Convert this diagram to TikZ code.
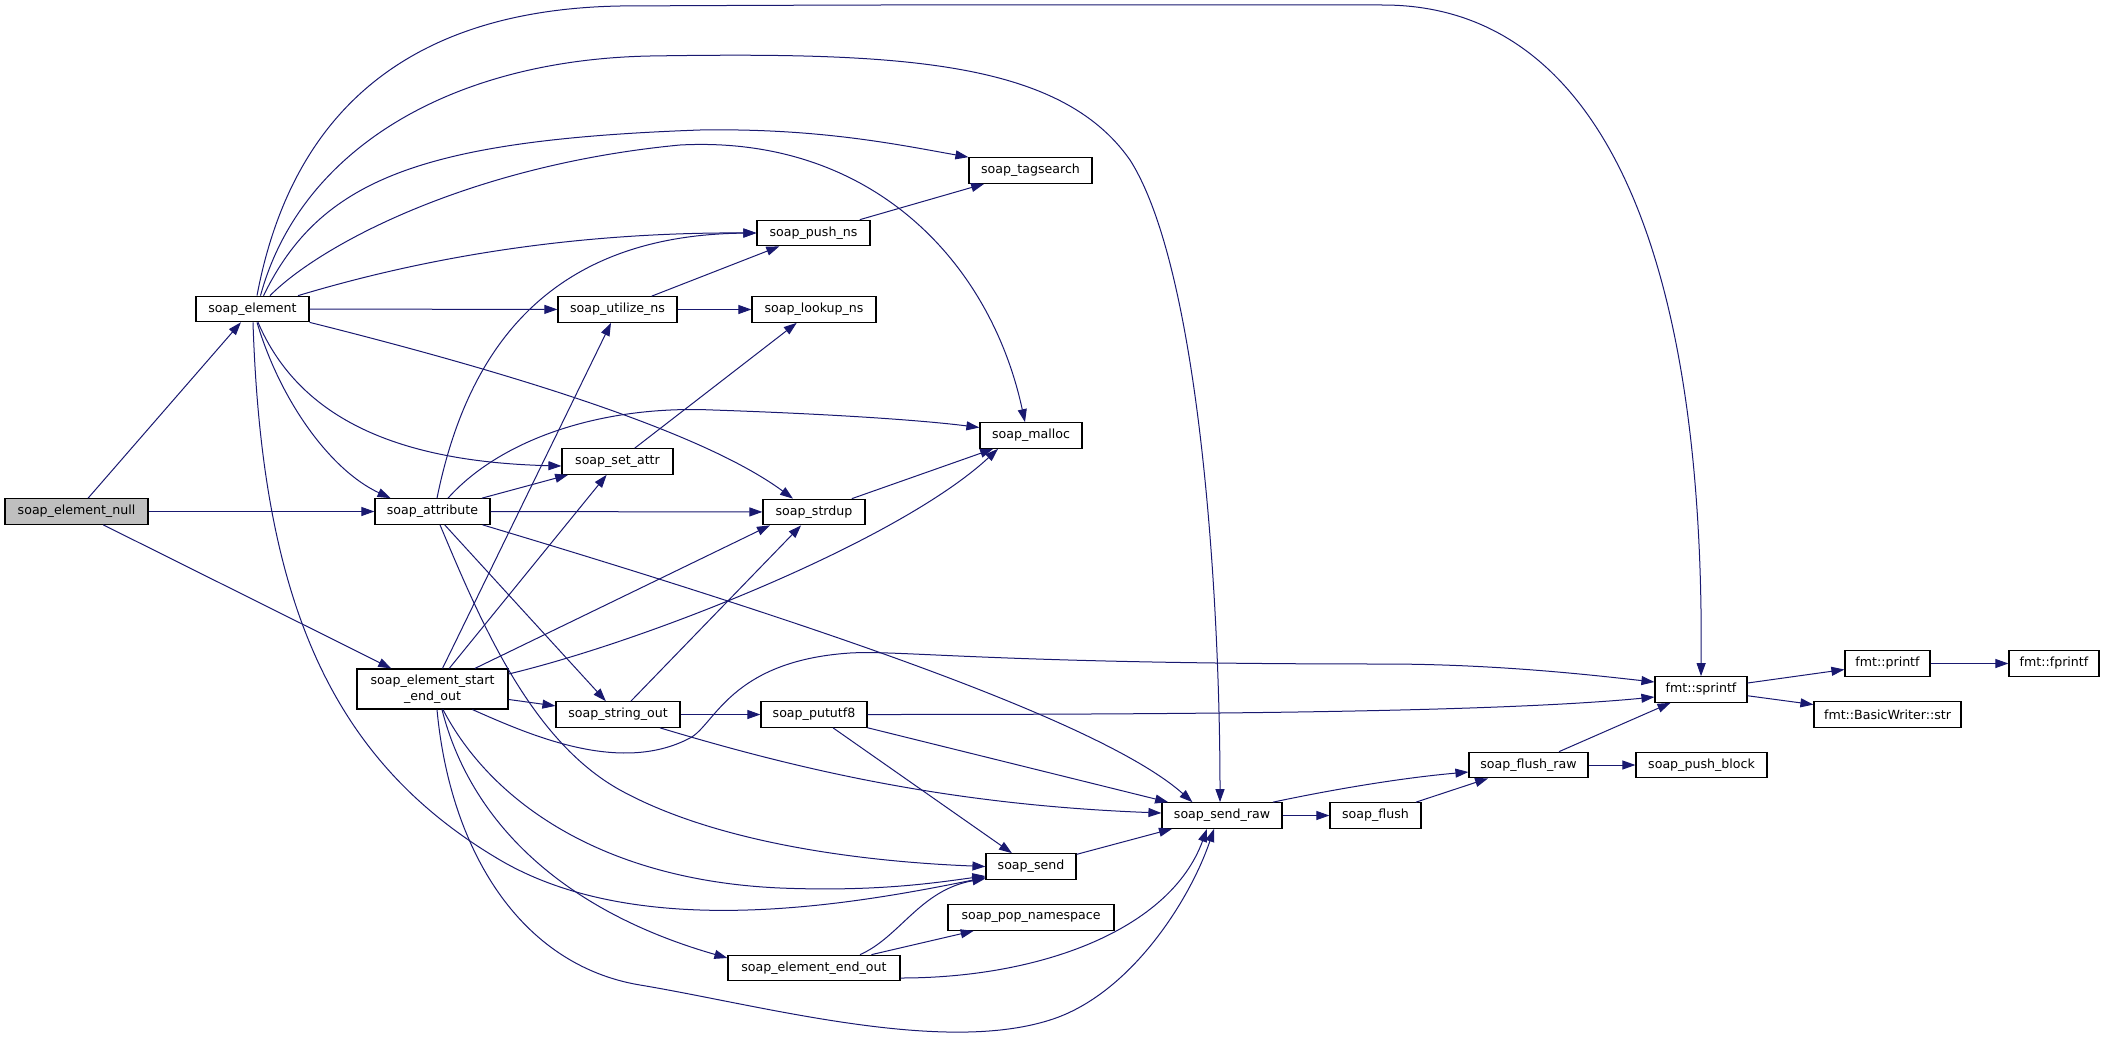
\documentclass[tikz,border=0pt]{standalone}
\usepackage{fontspec}
\setmainfont{DejaVu Sans}
\usetikzlibrary{arrows.meta}
\definecolor{edgeblue}{HTML}{191970}
\definecolor{rootgray}{HTML}{BFBFBF}

\begin{document}
\begin{tikzpicture}[x=1pt, y=-1pt,
    fn/.style={draw=black, fill=white, line width=1.2pt, minimum height=25.5pt, inner sep=0pt,
      font=\fontsize{12.6}{15.5}\selectfont},
    root/.style={fn, fill=rootgray},
    call/.style={draw=edgeblue, line width=1pt, -{Triangle[length=13pt, width=9pt]}}]
    \useasboundingbox (0,0) rectangle (2104,1036);

    \node[root, minimum width=143pt] (null) at (76.5,511.5) {soap\_element\_null};
    \node[fn, minimum width=113pt] (element) at (252.5,309) {soap\_element};
    \node[fn, minimum width=115pt] (attribute) at (432.5,511.5) {soap\_attribute};
    \node[fn, minimum width=151pt, minimum height=40pt, align=center] (seo) at (432.5,689) {soap\_element\_start\\\_end\_out};

    \node[fn, minimum width=119pt] (utilize) at (617.5,309.5) {soap\_utilize\_ns};
    \node[fn, minimum width=111pt] (setattr) at (617.5,461.5) {soap\_set\_attr};
    \node[fn, minimum width=124pt] (stringout) at (618,714.5) {soap\_string\_out};

    \node[fn, minimum width=113pt] (pushns) at (813.5,233) {soap\_push\_ns};
    \node[fn, minimum width=124pt] (lookupns) at (814,309.5) {soap\_lookup\_ns};
    \node[fn, minimum width=102pt] (strdup) at (814,512) {soap\_strdup};
    \node[fn, minimum width=106pt] (pututf8) at (814,714.5) {soap\_pututf8};
    \node[fn, minimum width=172pt] (endout) at (814,968) {soap\_element\_end\_out};

    \node[fn, minimum width=123pt] (tagsearch) at (1030.5,170.5) {soap\_tagsearch};
    \node[fn, minimum width=102pt] (malloc) at (1031,435.5) {soap\_malloc};
    \node[fn, minimum width=90pt] (send) at (1031,866.5) {soap\_send};
    \node[fn, minimum width=166pt] (popns) at (1031,917.5) {soap\_pop\_namespace};

    \node[fn, minimum width=120pt] (sendraw) at (1222,815.5) {soap\_send\_raw};
    \node[fn, minimum width=91pt] (flush) at (1375.5,815.5) {soap\_flush};
    \node[fn, minimum width=119pt] (flushraw) at (1528.5,765) {soap\_flush\_raw};
    \node[fn, minimum width=92pt] (sprintf) at (1701,689.5) {fmt::sprintf};
    \node[fn, minimum width=131pt] (pushblock) at (1701.5,765) {soap\_push\_block};
    \node[fn, minimum width=85pt] (printf) at (1887.5,663.5) {fmt::printf};
    \node[fn, minimum width=147pt] (basicwriter) at (1887.5,714.5) {fmt::BasicWriter::str};
    \node[fn, minimum width=90pt] (fprintf) at (2054,663.5) {fmt::fprintf};

    \draw[call] (null) -- (element);
    \draw[call] (null) -- (attribute);
    \draw[call] (null) -- (seo);

    \draw[call] ([xshift=4.5pt]element.north) .. controls (290,120) and (400,10) .. (620,6)
      .. controls (1000,4) and (1250,5) .. (1383,5) .. controls (1600,5) and (1705,250) .. (sprintf.north);
    \draw[call] ([xshift=8pt]element.north) .. controls (300,150) and (450,60) .. (650,56)
      .. controls (900,52) and (1060,60) .. (1130,160) .. controls (1200,270) and (1220,600) .. ([xshift=-2pt]sendraw.north);
    \draw[call] ([xshift=11pt]element.north) .. controls (320,180) and (420,140) .. (700,130)
      .. controls (820,128) and (900,145) .. (tagsearch.north west);
    \draw[call] ([xshift=17.5pt]element.north) .. controls (320,245) and (470,165) .. (680,145)
      .. controls (870,135) and (990,260) .. ([xshift=-6pt]malloc.north);
    \draw[call] ([xshift=45.5pt]element.north) .. controls (400,265) and (550,232) .. (pushns.west);
    \draw[call] (element) -- (utilize);
    \draw[call] (element.south east) .. controls (500,370) and (700,430) .. ([xshift=-21pt]strdup.north);
    \draw[call] ([xshift=5.5pt]element.south) .. controls (300,420) and (400,462) .. ([yshift=-4.5pt]setattr.west);
    \draw[call] ([xshift=4.5pt]element.south) .. controls (280,400) and (330,470) .. ([xshift=-42pt]attribute.north);
    \draw[call] ([xshift=0.5pt]element.south) .. controls (262,600) and (330,760) .. (500,860)
      .. controls (640,942) and (850,905) .. ([yshift=-11pt]send.west);

    \draw[call] (attribute) -- (setattr);
    \draw[call] ([xshift=15.5pt]attribute.north) .. controls (500,440) and (600,405) .. (713,410)
      .. controls (830,414) and (920,420) .. ([yshift=8pt]malloc.west);
    \draw[call] ([xshift=4.5pt]attribute.north) .. controls (465,360) and (540,235) .. (pushns.west);
    \draw[call] (attribute) -- (strdup);
    \draw[call] (attribute) -- (stringout);
    \draw[call] ([xshift=-8pt]attribute.south east) .. controls (800,620) and (1100,720) .. ([xshift=31pt]sendraw.north west);
    \draw[call] ([xshift=7.5pt]attribute.south) .. controls (480,620) and (530,740) .. (620,790)
      .. controls (720,845) and (870,862) .. (send.west);

    \draw[call] (seo) -- (utilize);
    \draw[call] (seo) -- (setattr);
    \draw[call] (seo) -- ([xshift=-44pt]strdup.south);
    \draw[call] ([yshift=15pt]seo.east) .. controls (650,640) and (900,540) .. ([xshift=-33pt]malloc.south);
    \draw[call] (seo) -- (stringout);
    \draw[call] ([xshift=40pt]seo.south) .. controls (530,735) and (620,775) .. (690,738)
      .. controls (715,725) and (730,661) .. (850,653) .. controls (900,650) and (1000,664) .. (1383,664)
      .. controls (1500,664) and (1600,676) .. ([yshift=7.5pt]sprintf.west);
    \draw[call] ([xshift=10.5pt]seo.south) .. controls (490,800) and (600,880) .. (780,888)
      .. controls (880,892) and (940,882) .. ([yshift=-9.5pt]send.west);
    \draw[call] ([xshift=9.5pt]seo.south) .. controls (470,820) and (560,910) .. ([yshift=10pt]endout.west);
    \draw[call] ([xshift=4.5pt]seo.south) .. controls (450,850) and (520,965) .. (640,985)
      .. controls (760,1005) and (940,1055) .. (1050,1020) .. controls (1130,995) and (1190,900) .. ([xshift=-8pt]sendraw.south);

    \draw[call] (utilize) -- (pushns);
    \draw[call] (utilize) -- (lookupns);
    \draw[call] (setattr) -- (lookupns);
    \draw[call] (pushns) -- (tagsearch);
    \draw[call] (strdup) -- (malloc);
    \draw[call] (stringout) -- (strdup);
    \draw[call] (stringout) -- (pututf8);
    \draw[call] ([xshift=42pt]stringout.south) .. controls (800,770) and (950,805) .. ([yshift=2.5pt]sendraw.west);

    \draw[call] (pututf8) -- (send);
    \draw[call] (pututf8) -- (sendraw);
    \draw[call] (pututf8.east) .. controls (1200,714.5) and (1500,712) .. ([yshift=-7.5pt]sprintf.west);

    \draw[call] (endout) -- (popns);
    \draw[call] ([xshift=46pt]endout.north) .. controls (900,937) and (920,890) .. ([yshift=-12pt]send.west);
    \draw[call] ([yshift=-10pt]endout.east) .. controls (1040,978) and (1170,930) .. ([xshift=-15pt]sendraw.south);

    \draw[call] (send) -- (sendraw);
    \draw[call] (sendraw) -- (flush);
    \draw[call] ([xshift=51pt]sendraw.north) .. controls (1330,790) and (1400,778) .. ([yshift=-7pt]flushraw.west);
    \draw[call] (flush) -- (flushraw);
    \draw[call] (flushraw) -- (pushblock);
    \draw[call] (flushraw) -- (sprintf);
    \draw[call] (sprintf) -- (printf);
    \draw[call] (sprintf) -- (basicwriter);
    \draw[call] (printf) -- (fprintf);
\end{tikzpicture}
\end{document}
